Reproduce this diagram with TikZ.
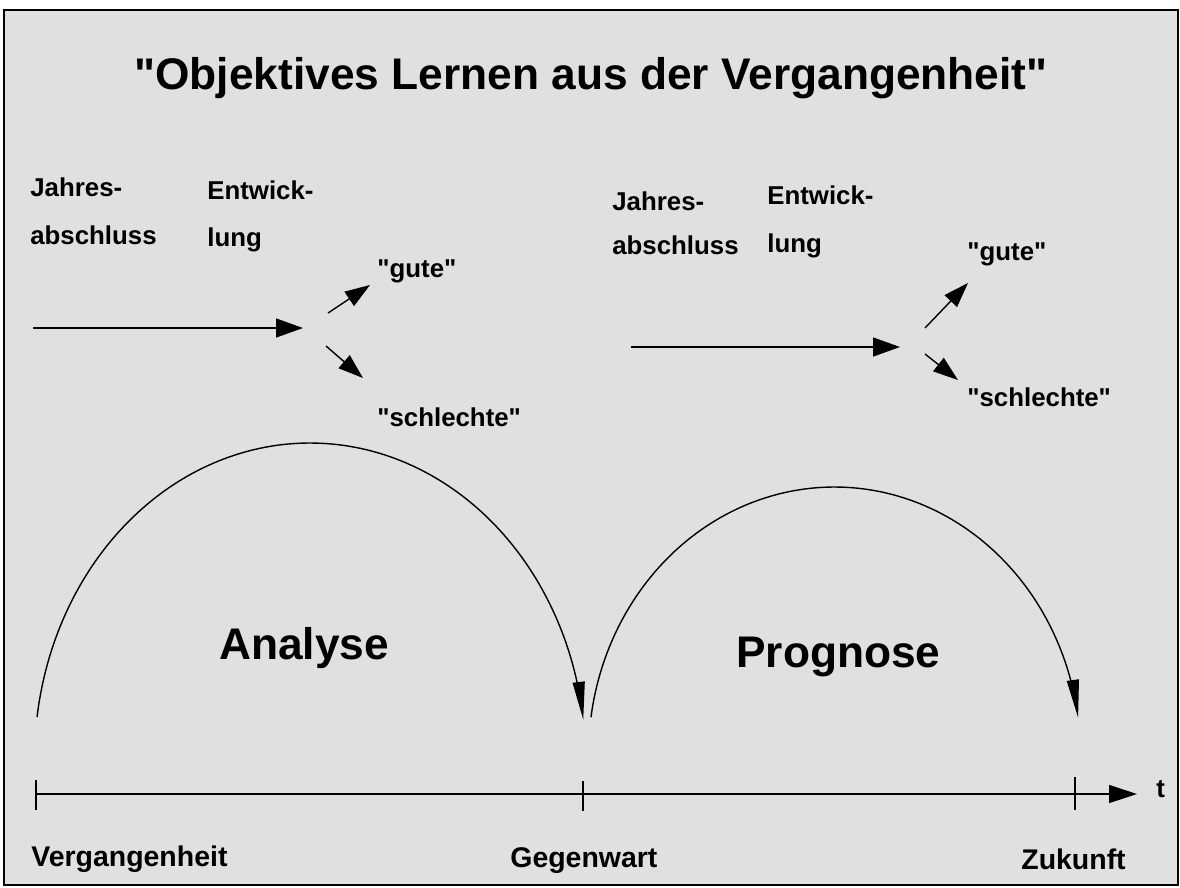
\documentclass[tikz,border=0pt]{standalone}
\usepackage{fontspec}
\setmainfont{Liberation Sans}[Ligatures=TeXOff]
\usetikzlibrary{arrows.meta}
\definecolor{bgray}{RGB}{224,224,224}
\begin{document}
\begin{tikzpicture}[x=0.02cm,y=-0.02cm,
  lbl/.style={font=\fontsize{14.7pt}{16pt}\selectfont\bfseries, inner sep=0pt, anchor=base west},
  tlbl/.style={font=\fontsize{16.2pt}{18pt}\selectfont\bfseries, inner sep=0pt, anchor=base west},
  big/.style={font=\fontsize{25.2pt}{28pt}\selectfont\bfseries, inner sep=0pt, anchor=base west},
  ln/.style={line width=0.8pt},
  arr/.style={ln,-{Triangle[length=0.54cm,width=0.38cm]}},
  sarr/.style={ln,-{Triangle[length=0.5cm,width=0.34cm]}},
  carr/.style={ln,-{Triangle[length=0.76cm,width=0.24cm]}}]
\useasboundingbox (0,0) rectangle (1180,887);
\fill[white] (0,0) rectangle (1180,887);
\draw[line width=1.2pt, fill=bgray] (4,10) rectangle (1178,885);

% title
\node[big, anchor=base] (title) at (591,89) {"Objektives Lernen aus der Vergangenheit"};

% left group
\node[lbl] (j1) at (30,196) {Jahres-};
\node[lbl] (a1) at (30,244) {abschluss};
\node[lbl] (e1) at (207,199) {Entwick-};
\node[lbl] (l1) at (207,246) {lung};
\node[lbl] (g1) at (377,277) {"gute"};
\node[lbl] (s1) at (377,426) {"schlechte"};
\coordinate (la0) at (33,328);
\coordinate (la1) at (303,328);
\coordinate (lu0) at (328,313);
\coordinate (lu1) at (370,285);
\coordinate (ld0) at (326,346);
\coordinate (ld1) at (363,378);
\draw[arr] (la0) -- (la1);
\draw[sarr] (lu0) -- (lu1);
\draw[sarr] (ld0) -- (ld1);

% right group
\node[lbl] (j2) at (612,210) {Jahres-};
\node[lbl] (a2) at (612,254) {abschluss};
\node[lbl] (e2) at (767,204) {Entwick-};
\node[lbl] (l2) at (767,252) {lung};
\node[lbl] (g2) at (967,260) {"gute"};
\node[lbl] (s2) at (967,406) {"schlechte"};
\coordinate (ra0) at (631,347);
\coordinate (ra1) at (900,347);
\coordinate (ru0) at (925,328);
\coordinate (ru1) at (968,283);
\coordinate (rd0) at (925,354);
\coordinate (rd1) at (958,380);
\draw[arr] (ra0) -- (ra1);
\draw[sarr] (ru0) -- (ru1);
\draw[sarr] (rd0) -- (rd1);

% arcs
\draw[carr] plot[domain=187.8:352.7, samples=80, smooth] ({310+275.5*cos(\x)},{760+317*sin(\x)});
\draw[carr] plot[domain=188.1:352, samples=80, smooth] ({834.5+246*cos(\x)},{755+268*sin(\x)});
\node[big] (an) at (219,659) {Analyse};
\node[big] (pr) at (736,667) {Prognose};

% time axis
\coordinate (v) at (36,794);
\coordinate (g) at (583,794);
\coordinate (z) at (1075,794);
\coordinate (tend) at (1137,794);
\draw[ln, -{Triangle[length=0.56cm,width=0.36cm]}] (v) -- (tend);
\draw[ln] (36,780) -- (36,810);
\draw[ln] (583,781) -- (583,811);
\draw[ln] (1075,777) -- (1075,810);
\node[lbl] (t) at (1156,797) {t};

\node[tlbl] (vg) at (31,866) {Vergangenheit};
\node[tlbl] (gw) at (510,867) {Gegenwart};
\node[tlbl] (zk) at (1021,869) {Zukunft};
\end{tikzpicture}
\end{document}
